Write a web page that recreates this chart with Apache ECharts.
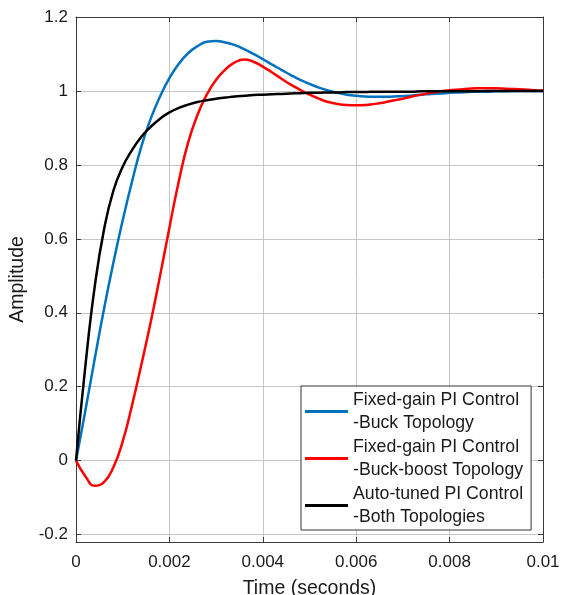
<!DOCTYPE html>
<html>
<head>
<meta charset="utf-8">
<script src="https://cdn.jsdelivr.net/npm/echarts@6/dist/echarts.min.js"></script>
<style>html,body{margin:0;padding:0;background:#fff}#c{width:562px;height:595px}</style>
</head>
<body>
<div id="c"></div>
<script>
var time = [0,0.0002,0.0004,0.0006,0.0008,0.001,0.0012,0.0014,0.0016,0.0018,
  0.002,0.0022,0.0024,0.0026,0.0028,0.003,0.0032,0.0034,0.0036,0.0038,
  0.004,0.0042,0.0044,0.0046,0.0048,0.005,0.0052,0.0054,0.0056,0.0058,
  0.006,0.0062,0.0064,0.0066,0.0068,0.007,0.0072,0.0074,0.0076,0.0078,
  0.008,0.0082,0.0084,0.0086,0.0088,0.009,0.0092,0.0094,0.0096,0.0098,0.01];
var buck = [0,0.135,0.275,0.41,0.535,0.65,0.755,0.85,0.925,0.985,
  1.035,1.073,1.102,1.121,1.133,1.135,1.131,1.124,1.113,1.1,
  1.086,1.071,1.057,1.043,1.03,1.019,1.009,1.001,0.995,0.99,
  0.987,0.985,0.984,0.984,0.985,0.986,0.988,0.99,0.992,0.993,
  0.995,0.996,0.997,0.998,0.998,0.999,0.999,1.0,1.0,1.0,1.0];
var buckBoost = [0,-0.042,-0.068,-0.058,-0.018,0.052,0.15,0.26,0.375,0.5,
  0.63,0.755,0.86,0.935,0.99,1.03,1.058,1.077,1.085,1.079,
  1.066,1.05,1.033,1.017,1.003,0.99,0.979,0.97,0.965,0.962,
  0.961,0.962,0.965,0.969,0.974,0.979,0.985,0.99,0.995,0.999,
  1.002,1.004,1.006,1.007,1.007,1.007,1.006,1.005,1.004,1.002,1.001];
var autoTuned = [0,0.255,0.47,0.625,0.73,0.795,0.84,0.876,0.903,0.925,
  0.942,0.954,0.963,0.97,0.975,0.979,0.982,0.985,0.987,0.989,
  0.99,0.991,0.992,0.993,0.994,0.995,0.995,0.996,0.996,0.997,
  0.997,0.997,0.998,0.998,0.998,0.998,0.998,0.999,0.999,0.999,
  0.999,0.999,0.999,0.999,1.0,1.0,1.0,1.0,1.0,1.0,1.0];
var seriesNames = ['Fixed-gain PI Control\n-Buck Topology',
  'Fixed-gain PI Control\n-Buck-boost Topology',
  'Auto-tuned PI Control\n-Both Topologies'];
var xTicks = [0,0.002,0.004,0.006,0.008,0.01];
var xTickLabels = ['0','0.002','0.004','0.006','0.008','0.01'];
var yTicks = [-0.2,0,0.2,0.4,0.6,0.8,1,1.2];
var yTickLabels = ['-0.2','0','0.2','0.4','0.6','0.8','1','1.2'];

function pairs(ys){ return time.map(function(t,i){ return [t, ys[i]]; }); }
var font = 'Liberation Sans, Arial, sans-serif';
var txt = '#1a1a1a';
var axisCol = '#3a3a3a';
var gridCol = '#c6c6c6';

function xLab(v){ for (var i=0;i<xTicks.length;i++){ if (Math.abs(xTicks[i]-v)<1e-12) return xTickLabels[i]; } return ''; }
function yLab(v){ for (var i=0;i<yTicks.length;i++){ if (Math.abs(yTicks[i]-v)<1e-9) return yTickLabels[i]; } return ''; }

var chart = echarts.init(document.getElementById('c'), null, {renderer:'canvas'});
chart.setOption({
  animation: false,
  backgroundColor: '#fff',
  textStyle: {fontFamily: font},
  grid: {left: 76, right: 19, top: 17, bottom: 53, containLabel: false, outerBoundsMode: 'none'},
  legend: {
    left: 301, top: 386,
    orient: 'vertical',
    data: seriesNames,
    itemGap: 0,
    itemWidth: 43, itemHeight: 3,
    icon: 'rect',
    padding: [2, 8, 1, 4],
    borderColor: '#333', borderWidth: 1,
    backgroundColor: '#fff',
    textStyle: {fontFamily: font, fontSize: 17.7, color: txt, lineHeight: 23.5}
  },
  xAxis: [{
    type: 'value', min: 0, max: 0.01, position: 'bottom',
    name: 'Time (seconds)', nameLocation: 'middle', nameGap: 37,
    nameTextStyle: {fontFamily: font, fontSize: 19.5, color: txt},
    axisLine: {show: true, onZero: false, lineStyle: {color: axisCol, width: 1}},
    axisTick: {show: true, inside: true, length: 5, customValues: xTicks, lineStyle: {color: axisCol}},
    axisLabel: {show: true, margin: 12, customValues: xTicks, formatter: xLab, fontFamily: font, fontSize: 17, color: txt},
    splitLine: {show: true, lineStyle: {color: gridCol, width: 1}}
  }, {
    type: 'value', min: 0, max: 0.01, position: 'top',
    axisLine: {show: true, onZero: false, lineStyle: {color: axisCol, width: 1}},
    axisTick: {show: true, inside: true, length: 5, customValues: xTicks, lineStyle: {color: axisCol}},
    axisLabel: {show: false},
    splitLine: {show: false}
  }],
  yAxis: [{
    type: 'value', min: -0.22, max: 1.2, position: 'left',
    name: 'Amplitude', nameLocation: 'middle', nameGap: 39,
    nameTextStyle: {fontFamily: font, fontSize: 19.5, color: txt},
    axisLine: {show: true, onZero: false, lineStyle: {color: axisCol, width: 1}},
    axisTick: {show: true, inside: true, length: 5, customValues: yTicks, lineStyle: {color: axisCol}},
    axisLabel: {show: true, margin: 8, customValues: yTicks, formatter: yLab, fontFamily: font, fontSize: 17, color: txt},
    splitLine: {show: true, lineStyle: {color: gridCol, width: 1}}
  }, {
    type: 'value', min: -0.22, max: 1.2, position: 'right',
    axisLine: {show: true, onZero: false, lineStyle: {color: axisCol, width: 1}},
    axisTick: {show: true, inside: true, length: 5, customValues: yTicks, lineStyle: {color: axisCol}},
    axisLabel: {show: false},
    splitLine: {show: false}
  }],
  series: [
    {name: seriesNames[0], type: 'line', data: pairs(buck), showSymbol: false, smooth: 0.5,
     color: '#0072BD', lineStyle: {width: 2.5, color: '#0072BD'}, z: 3},
    {name: seriesNames[1], type: 'line', data: pairs(buckBoost), showSymbol: false, smooth: 0.5,
     color: '#FF0000', lineStyle: {width: 2.5, color: '#FF0000'}, z: 4},
    {name: seriesNames[2], type: 'line', data: pairs(autoTuned), showSymbol: false, smooth: 0.5,
     color: '#000000', lineStyle: {width: 2.5, color: '#000000'}, z: 5}
  ]
});
</script>
</body>
</html>
